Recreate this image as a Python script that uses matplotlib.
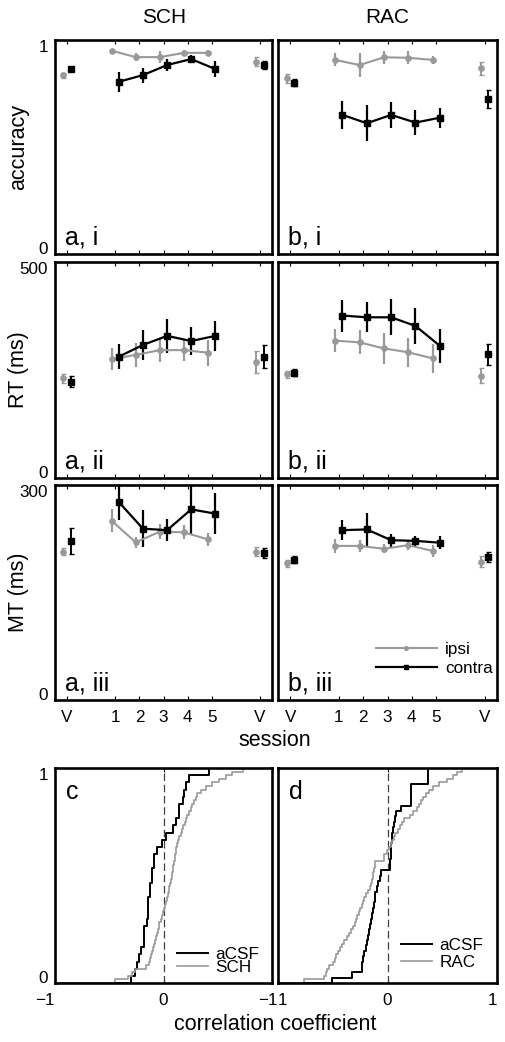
import numpy as np
import matplotlib.pyplot as plt
from matplotlib.transforms import ScaledTranslation

plt.rcParams['font.family'] = ['Liberation Sans', 'DejaVu Sans']

# ---- data -------------------------------------------------------------
sessions = [1, 2, 3, 4, 5]
v_pos = [-1, 7]
xtick_pos = [-1, 1, 2, 3, 4, 5, 7]
xtick_labels = ['V', '1', '2', '3', '4', '5', 'V']

# accuracy
sch_acc_ipsi = [0.95, 0.92, 0.92, 0.94, 0.94]
sch_acc_ipsi_err = [0.01, 0.02, 0.027, 0.013, 0.013]
sch_acc_contra = [0.805, 0.836, 0.883, 0.911, 0.864]
sch_acc_contra_err = [0.047, 0.035, 0.027, 0.017, 0.036]
sch_acc_v_ipsi = [0.835, 0.899]
sch_acc_v_ipsi_err = [0.012, 0.02]
sch_acc_v_contra = [0.866, 0.883]
sch_acc_v_contra_err = [0.006, 0.02]

rac_acc_ipsi = [0.907, 0.883, 0.919, 0.917, 0.907]
rac_acc_ipsi_err = [0.03, 0.055, 0.03, 0.03, 0.02]
rac_acc_contra = [0.65, 0.611, 0.65, 0.614, 0.637]
rac_acc_contra_err = [0.065, 0.083, 0.062, 0.06, 0.047]
rac_acc_v_ipsi = [0.821, 0.868]
rac_acc_v_ipsi_err = [0.02, 0.03]
rac_acc_v_contra = [0.80, 0.724]
rac_acc_v_contra_err = [0.017, 0.041]

# reaction time (ms)
sch_rt_ipsi = [275, 285, 296, 296, 290]
sch_rt_ipsi_err = [25, 28, 28, 25, 30]
sch_rt_contra = [281, 308, 329, 317, 329]
sch_rt_contra_err = [29, 35, 39, 32, 35]
sch_rt_v_ipsi = [231, 269]
sch_rt_v_ipsi_err = [10, 25]
sch_rt_v_contra = [223, 281]
sch_rt_v_contra_err = [12, 27]

rac_rt_ipsi = [318, 314, 300, 291, 277]
rac_rt_ipsi_err = [26, 28, 36, 34, 33]
rac_rt_contra = [376, 372, 372, 352, 306]
rac_rt_contra_err = [37, 35, 42, 42, 39]
rac_rt_v_ipsi = [240, 237]
rac_rt_v_ipsi_err = [8, 17]
rac_rt_v_contra = [244, 286]
rac_rt_v_contra_err = [8, 24]

# movement time (ms)
sch_mt_ipsi = [250, 220, 235, 234, 224]
sch_mt_ipsi_err = [16, 8, 10, 10, 9]
sch_mt_contra = [276, 239, 237, 266, 260]
sch_mt_contra_err = [25, 26, 15, 36, 29]
sch_mt_v_ipsi = [207, 207]
sch_mt_v_ipsi_err = [5, 6]
sch_mt_v_contra = [222, 205]
sch_mt_v_contra_err = [18, 7]

rac_mt_ipsi = [215, 215, 211, 216, 208]
rac_mt_ipsi_err = [10, 8, 6.5, 7, 8]
rac_mt_contra = [237, 238, 223, 222, 219.5]
rac_mt_contra_err = [13.5, 23, 9, 7, 9]
rac_mt_v_ipsi = [191, 193]
rac_mt_v_ipsi_err = [5, 8]
rac_mt_v_contra = [196, 199]
rac_mt_v_contra_err = [5, 7]

# correlation coefficients (cdf panels)
c_acsf = [-0.30, -0.265, -0.24, -0.226, -0.204, -0.18, -0.18, -0.18, -0.156, -0.144,
          -0.144, -0.144, -0.122, -0.122, -0.106, -0.106, -0.09, -0.09, -0.06, -0.015,
          0.025, 0.085, 0.116, 0.147, 0.147, 0.177, 0.19, 0.208, 0.232, 0.42]
c_sch = [-0.45, -0.33, -0.29, -0.26, -0.158, -0.137, -0.123, -0.114, -0.105, -0.095,
         -0.086, -0.076, -0.067, -0.06, -0.053, -0.046, -0.038, -0.027, -0.015, -0.002,
         0.007, 0.015, 0.023, 0.032, 0.04, 0.047, 0.054, 0.061, 0.067, 0.074,
         0.08, 0.086, 0.091, 0.097, 0.102, 0.107, 0.113, 0.118, 0.123, 0.132,
         0.144, 0.157, 0.17, 0.182, 0.195, 0.208, 0.221, 0.235, 0.251, 0.267,
         0.282, 0.297, 0.312, 0.349, 0.39, 0.447, 0.513, 0.575, 0.633, 0.73]
d_acsf = [-0.51, -0.32, -0.234, -0.23, -0.225, -0.215, -0.20, -0.185, -0.175, -0.165,
          -0.16, -0.152, -0.14, -0.13, -0.12, -0.115, -0.11, -0.095, -0.085, -0.07,
          -0.055, 0.024, 0.024, 0.028, 0.03, 0.03, 0.04, 0.045, 0.05, 0.06,
          0.07, 0.08, 0.12, 0.218, 0.218, 0.218, 0.218, 0.37, 0.37, 0.37]
d_rac = [-0.76, -0.576, -0.566, -0.555, -0.537, -0.496, -0.481, -0.467, -0.452, -0.436,
         -0.419, -0.394, -0.371, -0.349, -0.33, -0.313, -0.298, -0.286, -0.274, -0.262,
         -0.25, -0.237, -0.225, -0.212, -0.193, -0.174, -0.162, -0.153, -0.145, -0.136,
         -0.128, -0.12, -0.115, -0.11, -0.03, -0.03, -0.005, 0.013, 0.03, 0.043,
         0.055, 0.072, 0.092, 0.112, 0.13, 0.147, 0.204, 0.237, 0.265, 0.284,
         0.303, 0.328, 0.353, 0.379, 0.414, 0.47, 0.545, 0.596, 0.635, 0.68]

GRAY = '0.6'
W, H = 506, 1042


def make_axes(fig, left, top, width, height):
    ax = fig.add_axes([left / W, 1 - (top + height) / H, width / W, height / H])
    for sp in ax.spines.values():
        sp.set_linewidth(1.9)
    ax.tick_params(direction='in', length=3, width=0.8, top=True, right=True,
                   labelsize=12.3, pad=5)
    return ax


def clamp_ylabels(ax):
    # end labels sit just inside the axis range, like the original
    labels = ax.get_yticklabels()
    labels[0].set_va('baseline')
    labels[-1].set_va('top')


def session_panel(ax, ipsi, ipsi_err, contra, contra_err,
                  v_ipsi, v_ipsi_err, v_contra, v_contra_err, ymax):
    s = np.array(sessions, dtype=float)
    v = np.array(v_pos, dtype=float)
    h_ipsi = ax.errorbar(s - 0.15, ipsi, yerr=ipsi_err, color=GRAY, marker='o', ms=3.8,
                         lw=1.5, elinewidth=1.6, capsize=0)
    h_contra = ax.errorbar(s + 0.15, contra, yerr=contra_err, color='black', marker='s',
                           ms=3.8, lw=1.6, elinewidth=1.6, capsize=0)
    ax.errorbar(v - 0.15, v_ipsi, yerr=v_ipsi_err, color=GRAY, marker='o', ms=3.8,
                ls='none', elinewidth=1.4, capsize=1.8)
    ax.errorbar(v + 0.15, v_contra, yerr=v_contra_err, color='black', marker='s', ms=3.8,
                ls='none', elinewidth=1.4, capsize=1.8)
    ax.set_xlim(-1.5, 7.5)
    ax.set_ylim(0, ymax)
    ax.set_xticks(xtick_pos)
    return h_ipsi[0], h_contra[0]


def cdf_xy(vals):
    v = np.sort(np.asarray(vals, dtype=float))
    n = len(v)
    x = np.concatenate([[-1.0], v, [1.0]])
    y = np.concatenate([[0.0], np.arange(1, n + 1) / n, [1.0]])
    return x, y


fig = plt.figure(figsize=(W / 100, H / 100), dpi=100)

col_left = [55, 278]
col_width = [217, 219]
row_top = [40, 262, 485, 768]
row_height = [214, 216, 215, 215]

rows = [
    ('accuracy', 1, ['0', '1'],
     [(sch_acc_ipsi, sch_acc_ipsi_err, sch_acc_contra, sch_acc_contra_err,
       sch_acc_v_ipsi, sch_acc_v_ipsi_err, sch_acc_v_contra, sch_acc_v_contra_err),
      (rac_acc_ipsi, rac_acc_ipsi_err, rac_acc_contra, rac_acc_contra_err,
       rac_acc_v_ipsi, rac_acc_v_ipsi_err, rac_acc_v_contra, rac_acc_v_contra_err)],
     ['a, i', 'b, i']),
    ('RT (ms)', 500, ['0', '500'],
     [(sch_rt_ipsi, sch_rt_ipsi_err, sch_rt_contra, sch_rt_contra_err,
       sch_rt_v_ipsi, sch_rt_v_ipsi_err, sch_rt_v_contra, sch_rt_v_contra_err),
      (rac_rt_ipsi, rac_rt_ipsi_err, rac_rt_contra, rac_rt_contra_err,
       rac_rt_v_ipsi, rac_rt_v_ipsi_err, rac_rt_v_contra, rac_rt_v_contra_err)],
     ['a, ii', 'b, ii']),
    ('MT (ms)', 300, ['0', '300'],
     [(sch_mt_ipsi, sch_mt_ipsi_err, sch_mt_contra, sch_mt_contra_err,
       sch_mt_v_ipsi, sch_mt_v_ipsi_err, sch_mt_v_contra, sch_mt_v_contra_err),
      (rac_mt_ipsi, rac_mt_ipsi_err, rac_mt_contra, rac_mt_contra_err,
       rac_mt_v_ipsi, rac_mt_v_ipsi_err, rac_mt_v_contra, rac_mt_v_contra_err)],
     ['a, iii', 'b, iii']),
]

for r, (ylab, ymax, ylabels, panels, tags) in enumerate(rows):
    for c in range(2):
        ax = make_axes(fig, col_left[c], row_top[r], col_width[c], row_height[r])
        handles = session_panel(ax, *panels[c], ymax=ymax)
        ax.set_yticks([0, ymax])
        if c == 0:
            ax.set_yticklabels(ylabels)
            clamp_ylabels(ax)
        else:
            ax.set_yticklabels([])
        if r == 2:
            ax.set_xticklabels(xtick_labels)
            ax.tick_params(axis='x', pad=7)
        else:
            ax.set_xticklabels([])
        ax.text(10 / col_width[c], 10 / row_height[r], tags[c], transform=ax.transAxes,
                fontsize=18, ha='left', va='baseline')
        if r == 2 and c == 1:
            ax.legend(handles, ['ipsi', 'contra'], loc='upper left',
                      bbox_to_anchor=(367 / W, 1 - 633 / H),
                      bbox_transform=fig.transFigure, frameon=False, fontsize=12.3,
                      borderpad=0, handlelength=3.57, handletextpad=0.5,
                      labelspacing=0.25, markerscale=0.7)
    fig.text(19 / W, 1 - (row_top[r] + row_height[r] / 2) / H, ylab, rotation=90,
             ha='center', va='center', fontsize=15.5)

# cdf panels
cdf_sets = [(c_acsf, c_sch, 'SCH', 'c', 168, 938, -0.1),
            (d_acsf, d_rac, 'RAC', 'd', 392, 929, 0.15)]
for c, (acsf, drug, drug_name, tag, lx, ly, lsp) in enumerate(cdf_sets):
    ax = make_axes(fig, col_left[c], row_top[3], col_width[c], row_height[3])
    ax.axvline(0, color='0.25', lw=0.9, ls=(0, (6, 3)))
    x, y = cdf_xy(acsf)
    ax.step(x, y, where='post', color='black', lw=1.4, label='aCSF')
    x, y = cdf_xy(drug)
    ax.step(x, y, where='post', color=GRAY, lw=1.2, label=drug_name)
    ax.set_xlim(-1, 1)
    ax.set_ylim(0, 1)
    ax.set_xticks([-1, 0, 1])
    ax.set_xticklabels(['\u22121', '0', '1'])
    ax.tick_params(axis='x', pad=7)
    xl = ax.get_xticklabels()
    xl[0].set_ha('right')
    if c == 0:
        # the right-hand "1" sits just past the neighbouring panel's "-1"
        xl[-1].set_ha('left')
        xl[-1].set_transform(xl[-1].get_transform()
                             + ScaledTranslation(6 / 100, 0, fig.dpi_scale_trans))
    else:
        xl[-1].set_ha('right')
    ax.set_yticks([0, 1])
    if c == 0:
        ax.set_yticklabels(['0', '1'])
        clamp_ylabels(ax)
    else:
        ax.set_yticklabels([])
    ax.text(11 / col_width[c], 1 - 12 / row_height[3], tag, transform=ax.transAxes,
            fontsize=18, ha='left', va='top')
    ax.legend(loc='upper left', bbox_to_anchor=(lx / W, 1 - ly / H),
              bbox_transform=fig.transFigure, frameon=False, fontsize=12.3,
              borderpad=0, handlelength=1.87, handletextpad=0.4, labelspacing=lsp)

fig.text(275 / W, 1 - 741 / H, 'session', ha='center', va='center', fontsize=15.5)
fig.text(275 / W, 1 - 1025 / H, 'correlation coefficient', ha='center', va='center',
         fontsize=15.5)
fig.text(164 / W, 1 - 17.5 / H, 'SCH', ha='center', va='center', fontsize=15)
fig.text(387 / W, 1 - 17.5 / H, 'RAC', ha='center', va='center', fontsize=15)

fig.savefig('out.png', dpi=100)
